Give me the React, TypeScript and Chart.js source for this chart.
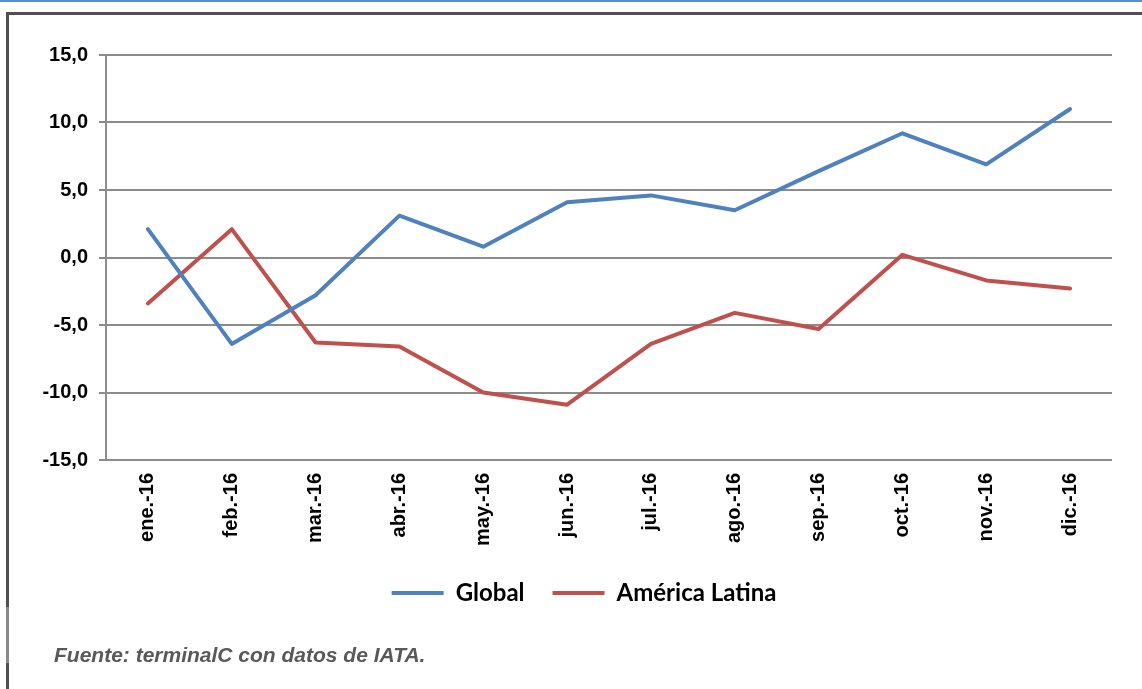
import React, { useEffect, useRef } from "react";
import { Chart, registerables } from "chart.js";

Chart.register(...registerables);

const categories = ["ene.-16", "feb.-16", "mar.-16", "abr.-16", "may.-16", "jun.-16", "jul.-16", "ago.-16", "sep.-16", "oct.-16", "nov.-16", "dic.-16"];
const globalValues = [2.1, -6.4, -2.8, 3.1, 0.8, 4.1, 4.6, 3.5, 6.4, 9.2, 6.9, 11.0];
const latamValues = [-3.4, 2.1, -6.3, -6.6, -10.0, -10.9, -6.4, -4.1, -5.3, 0.2, -1.7, -2.3];
const seriesNames = ["Global", "América Latina"];
const yMin = -15;
const yMax = 15;
const yStep = 5;
const footerText = "Fuente: terminalC con datos de IATA.";

const legendShift = {
  id: "legendShift",
  afterLayout(chart: any) {
    const lg = chart.legend;
    if (lg) {
      lg.left += 23;
      lg.right += 23;
    }
  },
};

export default function App() {
  const canvasRef = useRef<HTMLCanvasElement | null>(null);

  useEffect(() => {
    if (!canvasRef.current) return;
    const chart = new Chart(canvasRef.current, {
      type: "line",
      data: {
        labels: categories,
        datasets: [
          {
            label: seriesNames[0],
            data: globalValues,
            borderColor: "#4F81BD",
            backgroundColor: "#4F81BD",
            borderWidth: 4,
            borderCapStyle: "round",
            borderJoinStyle: "round",
            pointRadius: 0,
            tension: 0,
          },
          {
            label: seriesNames[1],
            data: latamValues,
            borderColor: "#C0504D",
            backgroundColor: "#C0504D",
            borderWidth: 4,
            borderCapStyle: "round",
            borderJoinStyle: "round",
            pointRadius: 0,
            tension: 0,
          },
        ],
      },
      plugins: [legendShift],
      options: {
        animation: false,
        responsive: false,
        maintainAspectRatio: false,
        layout: { padding: { left: 10, right: 30, top: 55, bottom: 74 } },
        plugins: {
          tooltip: { enabled: false },
          legend: {
            position: "bottom",
            labels: {
              usePointStyle: true,
              pointStyleWidth: 52,
              pointStyle: "line",
              boxHeight: 4,
              padding: 28,
              color: "#000000",
              font: { family: "Lato, 'Open Sans', sans-serif", size: 24, weight: "bold" },
            },
          },
        },
        scales: {
          x: {
            offset: true,
            grid: { display: false, drawTicks: false, offset: true },
            border: { display: false },
            ticks: {
              minRotation: 90,
              maxRotation: 90,
              padding: 13,
              color: "#000000",
              font: { family: "'Liberation Sans', Arial, sans-serif", size: 20, weight: "bold" },
            },
            afterFit: (scale: any) => {
              scale.height = 93;
            },
          },
          y: {
            min: yMin,
            max: yMax,
            grid: { color: "#8C8C8C", lineWidth: 2, tickLength: 7, drawTicks: true },
            border: { display: true, color: "#8C8C8C", width: 2 },
            ticks: {
              stepSize: yStep,
              padding: 11,
              color: "#000000",
              font: { family: "'Liberation Sans', Arial, sans-serif", size: 20, weight: "bold" },
              callback: (v: any) => Number(v).toFixed(1).replace(".", ","),
            },
            afterFit: (scale: any) => {
              scale.width = 96;
            },
          },
        },
      },
    });
    return () => chart.destroy();
  }, []);

  return (
    <div style={{ position: "absolute", left: 0, top: 0, width: 1142, height: 689, background: "#fff", overflow: "hidden" }}>
      <div style={{ position: "absolute", left: 0, top: 0, width: 1142, height: 2, background: "#5B8FD0" }} />
      <div style={{ position: "absolute", left: 6, top: 12, width: 1136, height: 3, background: "#505050" }} />
      <div style={{ position: "absolute", left: 6, top: 12, width: 3, height: 595, background: "#505050" }} />
      <div style={{ position: "absolute", left: 6, top: 607, width: 3, height: 56, background: "#8A8A8A" }} />
      <div style={{ position: "absolute", left: 6, top: 663, width: 3, height: 26, background: "#505050" }} />
      <canvas ref={canvasRef} width={1142} height={689} style={{ position: "absolute", left: 0, top: 0, width: 1142, height: 689 }} />
      <div
        style={{
          position: "absolute",
          left: 54,
          top: 643,
          fontFamily: "'Liberation Sans', Arial, sans-serif",
          fontSize: 21,
          fontWeight: "bold",
          fontStyle: "italic",
          color: "#595959",
          whiteSpace: "nowrap",
        }}
      >
        {footerText}
      </div>
    </div>
  );
}
